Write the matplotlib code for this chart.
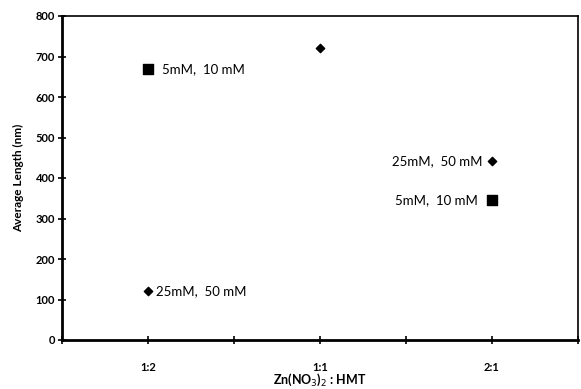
import matplotlib
matplotlib.use("Agg")
import matplotlib.pyplot as plt

plt.rcParams['font.family'] = ['Lato', 'DejaVu Sans']

# x positions: 1 = 1:2, 3 = 1:1, 5 = 2:1
ratios = ["1:2", "1:1", "2:1"]
sq_x = [1, 5]
sq_y = [668, 345]
sq_labels = ["5mM,  10 mM", "5mM,  10 mM"]
di_x = [1, 3, 5]
di_y = [121, 720, 441]
di_labels = ["25mM,  50 mM", "", "25mM,  50 mM"]

fig = plt.figure(figsize=(5.81, 3.89), dpi=100)
ax = fig.add_axes([62/581, 49/389, 516/581, 324/389])

ax.scatter(sq_x, sq_y, marker="s", s=45, color="black", zorder=3)
ax.scatter(di_x, di_y, marker="D", s=18, color="black", zorder=3)

# labels: right of points at 1:2, left of points at 2:1
for x, y, t in zip(sq_x, sq_y, sq_labels):
    if x < 3:
        ax.annotate(t, (x, y), xytext=(10, 0), textcoords="offset points", va="center", ha="left", fontsize=9.5)
    else:
        ax.annotate(t, (x, y), xytext=(-10, 0), textcoords="offset points", va="center", ha="right", fontsize=9.5)
for x, y, t in zip(di_x, di_y, di_labels):
    if not t:
        continue
    if x < 3:
        ax.annotate(t, (x, y), xytext=(6, 0), textcoords="offset points", va="center", ha="left", fontsize=9.5)
    else:
        ax.annotate(t, (x, y), xytext=(-7, 0), textcoords="offset points", va="center", ha="right", fontsize=9.5)

ax.set_xlim(0, 6)
ax.set_ylim(0, 800)
ax.set_xticks(range(0, 7))
ax.set_xticklabels(["", ratios[0], "", ratios[1], "", ratios[2], ""], fontsize=8, fontweight="bold")
ax.set_yticks(range(0, 801, 100))
ax.set_yticklabels([str(v) for v in range(0, 801, 100)], fontsize=8, fontweight="bold")
ax.tick_params(axis="both", direction="inout", length=6, width=1.2, color="black")
ax.tick_params(axis="x", pad=13)
ax.tick_params(axis="y", pad=2)
for side in ["left", "bottom"]:
    ax.spines[side].set_linewidth(2)
for side in ["top", "right"]:
    ax.spines[side].set_linewidth(1.2)

fig.text(320/581, 1/389, "Zn(NO$_3$)$_2$ : HMT", fontsize=9, fontweight="bold", ha="center", va="bottom")
ax.set_ylabel("Average Length (nm)", fontsize=8.5, fontweight="bold", labelpad=8)

fig.savefig("out.png", dpi=100)
